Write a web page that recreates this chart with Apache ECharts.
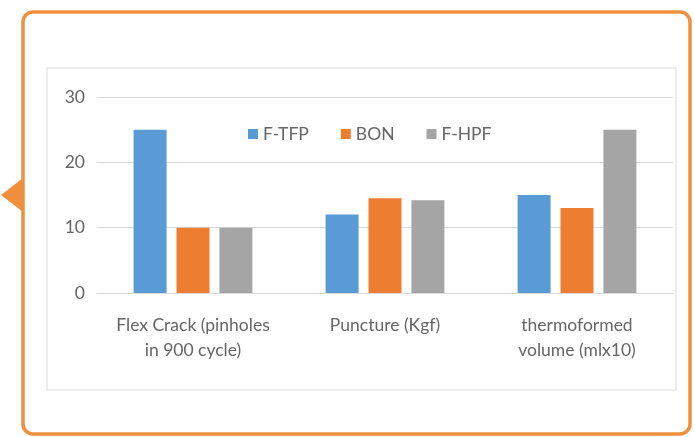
<!DOCTYPE html>
<html><head><meta charset="utf-8">
<script src="https://cdn.jsdelivr.net/npm/echarts@6/dist/echarts.min.js"></script>
<style>html,body{margin:0;padding:0;background:#fff}#c{width:695px;height:437px}</style>
</head><body><div id="c"></div>
<script>
const categories = ['Flex Crack (pinholes\nin 900 cycle)', 'Puncture (Kgf)', 'thermoformed\nvolume (mlx10)'];
const seriesNames = ['F-TFP', 'BON', 'F-HPF'];
const fTFP = [25, 12, 15];
const bon = [10, 14.5, 13];
const fHPF = [10, 14.2, 25];
const yTicks = [0, 10, 20, 30];
const colors = ['#5B9BD5', '#ED7D31', '#A5A5A5'];
const values = [fTFP, bon, fHPF];

const chart = echarts.init(document.getElementById('c'), null, {renderer: 'canvas'});
const font = 'Lato, "Open Sans", sans-serif';
chart.setOption({
  backgroundColor: '#fff',
  animation: false,
  textStyle: {fontFamily: font},
  graphic: [
    {type: 'rect', z: -10, shape: {x: 47, y: 68, width: 629, height: 322}, style: {fill: '#fff', stroke: '#d9d9d9', lineWidth: 1}},
    {type: 'rect', z: -5, shape: {x: 23, y: 12, width: 667, height: 422, r: 10}, style: {fill: 'none', stroke: '#F0903F', lineWidth: 3.5}},
    {type: 'polygon', z: -4, shape: {points: [[1, 195], [23, 178], [23, 212]]}, style: {fill: '#F0903F'}}
  ],
  legend: {
    data: seriesNames, left: 243, top: 120, itemWidth: 10, itemHeight: 10, itemGap: 32,
    icon: 'rect',
    textStyle: {color: '#666666', fontSize: 17.5, fontFamily: font}
  },
  grid: {left: 97, right: 22, top: 97, bottom: 144, containLabel: false},
  xAxis: {
    type: 'category', data: categories,
    axisLine: {show: true, lineStyle: {color: '#d9d9d9'}},
    axisTick: {show: false},
    axisLabel: {color: '#666666', fontSize: 17.5, lineHeight: 25, margin: 20, fontFamily: font, interval: 0}
  },
  yAxis: {
    type: 'value', min: 0, max: 30, interval: 10,
    axisLine: {show: false}, axisTick: {show: false},
    splitLine: {lineStyle: {color: '#d9d9d9', width: 1}},
    axisLabel: {color: '#666666', fontSize: 17.5, margin: 12, fontFamily: font,
      formatter: v => yTicks.includes(v) ? String(v) : ''}
  },
  series: seriesNames.map((n, i) => ({
    name: n, type: 'bar', data: values[i], barWidth: 33, barGap: '30%',
    itemStyle: {color: colors[i]}
  }))
});
</script></body></html>
